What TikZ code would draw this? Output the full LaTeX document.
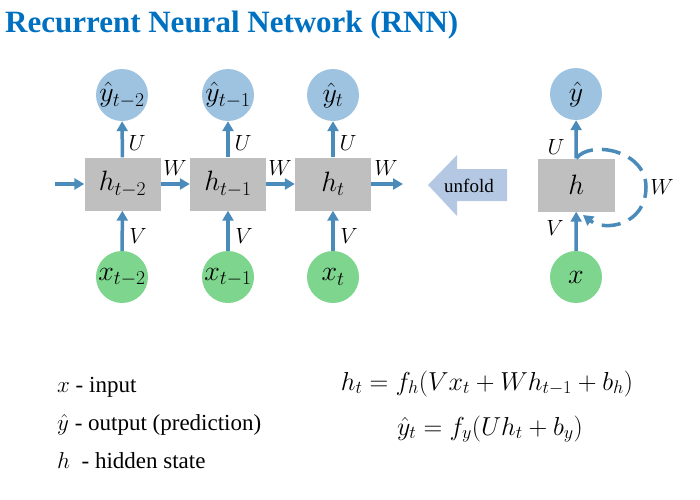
\documentclass[tikz,border=0pt]{standalone}
\usepackage{fix-cm}
\usepackage[no-math]{fontspec}
\setmainfont{Liberation Serif}
\usetikzlibrary{arrows.meta}
\definecolor{outblue}{HTML}{9DC3E0}
\definecolor{ingreen}{HTML}{7DD58E}
\definecolor{boxgray}{HTML}{BFBFBF}
\definecolor{arrblue}{HTML}{4A8BBA}
\definecolor{foldblue}{HTML}{B4C8E4}
\definecolor{titleblue}{HTML}{0070C0}
\begin{document}
\begin{tikzpicture}[x=1pt,y=-1pt,
  circ/.style={circle, minimum size=52pt, inner sep=0pt, font=\fontsize{28}{30}\selectfont},
  outc/.style={circ, fill=outblue},
  inc/.style={circ, fill=ingreen},
  hbox/.style={rectangle, fill=boxgray, minimum width=76pt, minimum height=53pt, inner sep=0pt, font=\fontsize{28}{30}\selectfont},
  conn/.style={draw=arrblue, line width=3.5pt, -{Triangle[length=10pt,width=11pt]}},
  lab/.style={font=\fontsize{22}{24}\selectfont, inner sep=0pt},
  txt/.style={font=\fontsize{23}{26}\selectfont, inner sep=0pt, anchor=base west},
  eqn/.style={font=\fontsize{26}{28}\selectfont, inner sep=0pt, anchor=base}]
\useasboundingbox (0,0) rectangle (700,499);
\node[anchor=base west, font=\fontsize{31}{34}\selectfont\bfseries, text=titleblue, inner sep=0pt] (title) at (5,32) {Recurrent Neural Network (RNN)};
% unrolled
\node[outc] (y2) at (122,95) {$\hat{y}_{t-2}$};
\node[outc] (y1) at (228,95) {$\hat{y}_{t-1}$};
\node[outc] (y0) at (333,95) {$\hat{y}_{t}$};
\node[hbox] (h2) at (122.5,184) {$h_{t-2}$};
\node[hbox] (h1) at (228,184) {$h_{t-1}$};
\node[hbox] (h0) at (333,184) {$h_{t}$};
\node[inc] (x2) at (122,277) {$x_{t-2}$};
\node[inc] (x1) at (228,277) {$x_{t-1}$};
\node[inc] (x0) at (333,277) {$x_{t}$};
\coordinate (in) at (55,184);
\coordinate (out) at (403,184);
\draw[conn] (in) -- (h2);
\draw[conn] (h2) -- (h1);
\draw[conn] (h1) -- (h0);
\draw[conn] (h0) -- (out);
\foreach \i in {0,1,2}{
  \draw[conn] (h\i) -- (y\i);
  \draw[conn] (x\i) -- (h\i);
}
\node[lab] (u2) at (137,143) {$U$};
\node[lab] (u1) at (243,143) {$U$};
\node[lab] (u0) at (348,143) {$U$};
\node[lab] (v2) at (138,236) {$V$};
\node[lab] (v1) at (244,236) {$V$};
\node[lab] (v0) at (349,236) {$V$};
\node[lab] (w2) at (175,168) {$W$};
\node[lab] (w1) at (280,168) {$W$};
\node[lab] (w0) at (386,168) {$W$};
% unfold arrow
\fill[foldblue] (428,185) -- (457,155) -- (457,169) -- (507,169) -- (507,201) -- (457,201) -- (457,216) -- cycle;
\node[font=\fontsize{19}{21}\selectfont, inner sep=0pt] (unfold) at (469,186) {unfold};
% folded
\node[outc] (yy) at (576,94) {$\hat{y}$};
\node[hbox, minimum width=77pt] (hh) at (576.3,185) {$h$};
\node[inc] (xx) at (576,277) {$x$};
\draw[conn] (hh) -- (yy);
\draw[conn] (xx) -- (hh);
\coordinate (loopend) at (583,215);
\draw[conn, dash pattern=on 19pt off 9pt] (hh.north) .. controls (590,140) and (646,150) .. (646,187) .. controls (646,225) and (605,232) .. (loopend);
\node[lab] (uu) at (556,147) {$U$};
\node[lab] (vv) at (555,228) {$V$};
\node[lab] (ww) at (662,187) {$W$};
% legend
\node[txt] (lx) at (57,392) {$x$ - input};
\node[txt] (ly) at (57,430) {$\hat{y}$ - output (prediction)};
\node[txt] (lh) at (57,468) {$h$\ \ - hidden state};
\node[eqn] (eq1) at (487,390) {$h_t = f_h(Vx_t + Wh_{t-1} + b_h)$};
\node[eqn] (eq2) at (490,435) {$\hat{y}_t = f_y(Uh_t + b_y)$};
\end{tikzpicture}
\end{document}
